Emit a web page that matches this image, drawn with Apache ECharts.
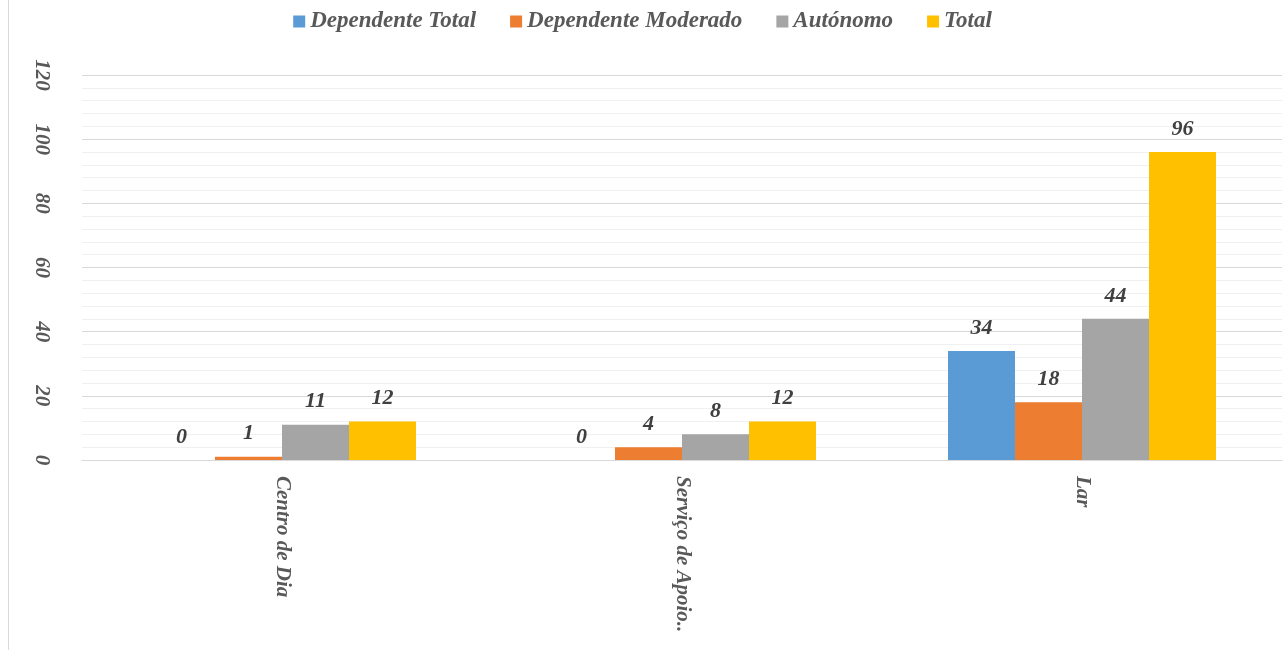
<!DOCTYPE html>
<html>
<head>
<meta charset="utf-8">
<script src="https://cdn.jsdelivr.net/npm/echarts@6/dist/echarts.min.js"></script>
<style>
  html, body { margin: 0; padding: 0; background: #fff; }
  #chart { width: 1285px; height: 650px; }
</style>
</head>
<body>
<div id="chart"></div>
<script>
// categorias e valores
var categorias = ["Centro de Dia", "Serviço de Apoio Domiciliário", "Lar"];
var nomesSeries = ["Dependente Total", "Dependente Moderado", "Autónomo", "Total"];
var dependenteTotal = [0, 0, 34];
var dependenteModerado = [1, 4, 18];
var autonomo = [11, 8, 44];
var total = [12, 12, 96];
var cores = ["#5b9bd5", "#ed7d31", "#a5a5a5", "#ffc000"];

var fonte = "Liberation Serif";
var corTexto = "#595959";

function serie(nome, dados, cor) {
  return {
    name: nome,
    type: "bar",
    data: dados,
    itemStyle: { color: cor },
    barGap: "0%",
    barCategoryGap: "33%",
    label: {
      show: true,
      position: "top",
      distance: 12,
      color: "#404040",
      fontFamily: fonte,
      fontStyle: "italic",
      fontWeight: "bold",
      fontSize: 22
    }
  };
}

var chart = echarts.init(document.getElementById("chart"));
chart.setOption({
  animation: false,
  legend: {
    top: 5,
    left: "center",
    itemWidth: 12,
    itemHeight: 12,
    itemGap: 34,
    icon: "rect",
    textStyle: {
      color: corTexto,
      fontFamily: fonte,
      fontStyle: "italic",
      fontWeight: "bold",
      fontSize: 23
    },
    data: nomesSeries
  },
  grid: { left: 82, right: 3, top: 75, bottom: 190 },
  xAxis: {
    type: "category",
    data: categorias,
    axisLine: { lineStyle: { color: "#d9d9d9", width: 1 } },
    axisTick: { show: false },
    axisLabel: {
      rotate: -90,
      margin: 16,
      color: corTexto,
      fontFamily: fonte,
      fontStyle: "italic",
      fontWeight: "bold",
      fontSize: 21,
      width: 165,
      overflow: "truncate",
      ellipsis: ".."
    }
  },
  yAxis: {
    type: "value",
    min: 0,
    max: 120,
    interval: 20,
    axisLine: { show: false },
    axisTick: { show: false },
    axisLabel: {
      rotate: -90,
      margin: 30,
      color: corTexto,
      fontFamily: fonte,
      fontStyle: "italic",
      fontWeight: "bold",
      fontSize: 21
    },
    splitLine: { lineStyle: { color: "#d9d9d9", width: 1 } },
    minorTick: { show: false, splitNumber: 5 },
    minorSplitLine: { show: true, lineStyle: { color: "#f0f0f0", width: 1 } }
  },
  graphic: [{
    type: "line",
    shape: { x1: 8.5, y1: 0, x2: 8.5, y2: 650 },
    style: { stroke: "#d9d9d9", lineWidth: 1 }
  }],
  series: [
    serie(nomesSeries[0], dependenteTotal, cores[0]),
    serie(nomesSeries[1], dependenteModerado, cores[1]),
    serie(nomesSeries[2], autonomo, cores[2]),
    serie(nomesSeries[3], total, cores[3])
  ]
});
</script>
</body>
</html>
